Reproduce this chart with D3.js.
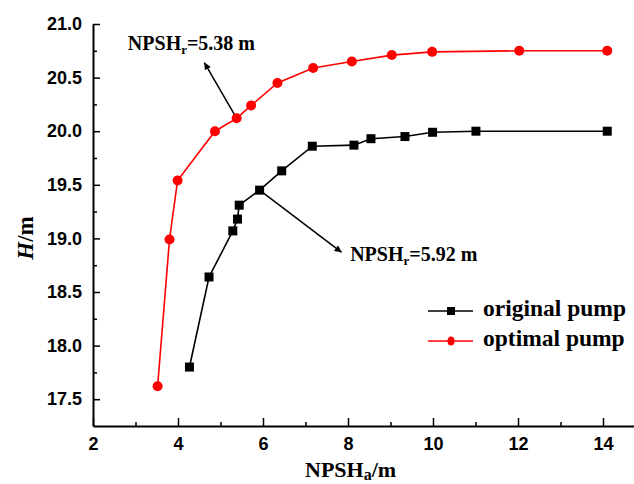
<!DOCTYPE html>
<html>
<head>
<meta charset="utf-8">
<script src="https://cdn.jsdelivr.net/npm/d3@7/dist/d3.min.js"></script>
<style>
  html, body { margin: 0; padding: 0; background: #fff; }
  svg { display: block; }
  .tick text { font-family: "Liberation Sans", Arial, sans-serif; font-weight: bold; font-size: 18px; fill: #000; }
  .serif { font-family: "Liberation Serif", "Times New Roman", serif; font-weight: bold; fill: #000; }
</style>
</head>
<body>
<svg id="chart" width="634" height="484"></svg>
<script>
// NPSH available (m) vs head (m) for both impellers
const npshOriginal = [4.27, 4.73, 5.29, 5.40, 5.44, 5.92, 6.44, 7.16, 8.14, 8.54, 9.34, 9.99, 11.01, 14.10];
const headOriginal = [17.80, 18.64, 19.07, 19.18, 19.31, 19.45, 19.63, 19.86, 19.87, 19.93, 19.95, 19.99, 20.00, 20.00];
const npshOptimal = [3.52, 3.80, 3.99, 4.87, 5.38, 5.72, 6.34, 7.18, 8.09, 9.03, 9.98, 12.03, 14.10];
const headOptimal = [17.62, 18.99, 19.54, 20.00, 20.12, 20.24, 20.45, 20.59, 20.65, 20.71, 20.74, 20.75, 20.75];

const xTicks = [2, 4, 6, 8, 10, 12, 14];
const xMinorTicks = [3, 5, 7, 9, 11, 13];
const yTicks = [17.5, 18.0, 18.5, 19.0, 19.5, 20.0, 20.5, 21.0];
const yMinorTicks = [17.75, 18.25, 18.75, 19.25, 19.75, 20.25, 20.75];

const seriesNames = ["original pump", "optimal pump"];
// critical NPSH values marked on each curve
const npshrOriginal = 5.92;
const npshrOptimal = 5.38;

const svg = d3.select("#chart");
const x = d3.scaleLinear().domain([2, 14.8]).range([93, 637]);
const y = d3.scaleLinear().domain([17.25, 21]).range([426, 24]);

// arrowhead used by the annotations
svg.append("defs").append("marker")
  .attr("id", "arrow")
  .attr("viewBox", "0 0 10 10")
  .attr("refX", 10).attr("refY", 5)
  .attr("markerWidth", 7).attr("markerHeight", 7)
  .attr("markerUnits", "userSpaceOnUse")
  .attr("orient", "auto")
  .append("path").attr("d", "M0,0 L10,5 L0,10 Z").attr("fill", "#000");

// axes: ticks point inward, minor ticks between majors
function styleAxis(g) {
  g.select(".domain").attr("stroke", "#000").attr("stroke-width", 2);
  g.selectAll(".tick line").attr("stroke", "#000").attr("stroke-width", 1.5);
}
svg.append("g").attr("transform", `translate(0,${y.range()[0]})`)
  .call(d3.axisBottom(x).tickValues(xTicks).tickFormat(d3.format("d"))
    .tickSizeInner(-8).tickSizeOuter(0).tickPadding(11))
  .call(styleAxis);
svg.append("g").attr("transform", `translate(0,${y.range()[0]})`)
  .call(d3.axisBottom(x).tickValues(xMinorTicks).tickFormat("").tickSizeInner(-4).tickSizeOuter(0))
  .call(g => g.select(".domain").remove())
  .call(styleAxis);

svg.append("g").attr("transform", `translate(${x.range()[0]},0)`)
  .call(d3.axisLeft(y).tickValues(yTicks).tickFormat(d3.format(".1f"))
    .tickSizeInner(-7).tickSizeOuter(0).tickPadding(11))
  .call(styleAxis);
svg.append("g").attr("transform", `translate(${x.range()[0]},0)`)
  .call(d3.axisLeft(y).tickValues(yMinorTicks).tickFormat("").tickSizeInner(-4).tickSizeOuter(0))
  .call(g => g.select(".domain").remove())
  .call(styleAxis);

// axis titles
const xt = svg.append("text").attr("class", "serif").attr("x", 305).attr("y", 477).style("font-size", "22px");
xt.append("tspan").text("NPSH");
xt.append("tspan").attr("dy", 3).style("font-size", "16px").text("a");
xt.append("tspan").attr("dy", -3).text("/m");

const yt = svg.append("text").attr("class", "serif")
  .attr("transform", "translate(33,238) rotate(-90)")
  .attr("text-anchor", "middle").style("font-size", "23px");
yt.append("tspan").style("font-style", "italic").text("H");
yt.append("tspan").text("/m");

// annotations for critical NPSH
const origPts = npshOriginal.map((v, i) => [v, headOriginal[i]]);
const optPts = npshOptimal.map((v, i) => [v, headOptimal[i]]);
const critOpt = optPts.find(p => p[0] === npshrOptimal);
const critOrig = origPts.find(p => p[0] === npshrOriginal);

const annotations = [
  { from: critOpt, to: [4.62, 20.64], text: [2.82, 20.76], value: npshrOptimal },
  { from: critOrig, to: [7.85, 18.87], text: [8.05, 18.79], value: npshrOriginal }
];
annotations.forEach(a => {
  svg.append("line")
    .attr("x1", x(a.from[0])).attr("y1", y(a.from[1]))
    .attr("x2", x(a.to[0])).attr("y2", y(a.to[1]))
    .attr("stroke", "#000").attr("stroke-width", 1.5)
    .attr("marker-end", "url(#arrow)");
  const t = svg.append("text").attr("class", "serif")
    .attr("x", x(a.text[0])).attr("y", y(a.text[1])).style("font-size", "20px");
  t.append("tspan").text("NPSH");
  t.append("tspan").attr("dy", 4).style("font-size", "13px").text("r");
  t.append("tspan").attr("dy", -4).text("=" + a.value.toFixed(2) + " m");
});

// curves
const line = d3.line().x(d => x(d[0])).y(d => y(d[1]));
svg.append("path").datum(origPts).attr("d", line)
  .attr("fill", "none").attr("stroke", "#000").attr("stroke-width", 1.6);
svg.append("path").datum(optPts).attr("d", line)
  .attr("fill", "none").attr("stroke", "#ff0000").attr("stroke-width", 1.6);

const sq = 9;
svg.append("g").selectAll("rect").data(origPts).join("rect")
  .attr("x", d => x(d[0]) - sq / 2).attr("y", d => y(d[1]) - sq / 2)
  .attr("width", sq).attr("height", sq).attr("fill", "#000");
svg.append("g").selectAll("circle").data(optPts).join("circle")
  .attr("cx", d => x(d[0])).attr("cy", d => y(d[1])).attr("r", 5).attr("fill", "#ff0000");

// legend
const legend = svg.append("g");
const legendItems = [
  { name: seriesNames[0], color: "#000", shape: "square", y: 311 },
  { name: seriesNames[1], color: "#ff0000", shape: "circle", y: 341 }
];
legendItems.forEach(it => {
  legend.append("line").attr("x1", 428).attr("x2", 473).attr("y1", it.y).attr("y2", it.y)
    .attr("stroke", it.color).attr("stroke-width", 1.6);
  if (it.shape === "square") {
    legend.append("rect").attr("x", 447).attr("y", it.y - 4).attr("width", 8).attr("height", 8).attr("fill", it.color);
  } else {
    legend.append("ellipse").attr("cx", 451).attr("cy", it.y).attr("rx", 3.5).attr("ry", 4.5).attr("fill", it.color);
  }
  legend.append("text").attr("class", "serif").attr("x", 483).attr("y", it.y + 5)
    .style("font-size", "23.5px").text(it.name);
});
</script>
</body>
</html>
